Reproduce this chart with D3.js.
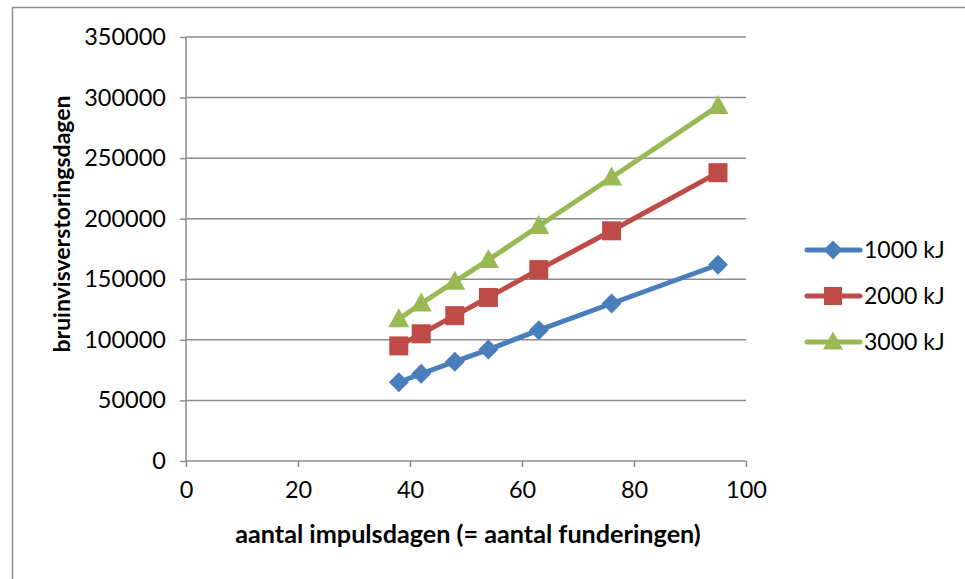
<!DOCTYPE html>
<html><head><meta charset="utf-8">
<script src="https://cdn.jsdelivr.net/npm/d3@7"></script>
<style>body{margin:0;background:#fff}svg{display:block}text{font-family:Lato,"Open Sans",sans-serif}</style>
</head><body>
<svg id="c" width="965" height="579"></svg>
<script>
const xValues = [38, 42, 48, 54, 63, 76, 95];
const seriesNames = ["1000 kJ", "2000 kJ", "3000 kJ"];
const s1000 = [65000, 72000, 82000, 92000, 108000, 130000, 162000];
const s2000 = [95000, 105000, 120000, 135000, 158000, 190000, 238000];
const s3000 = [117000, 130000, 148000, 166000, 194000, 234000, 293000];
const xTicks = [0, 20, 40, 60, 80, 100];
const yTicks = [0, 50000, 100000, 150000, 200000, 250000, 300000, 350000];
const colors = ["#4a7ebb", "#be4b48", "#98b954"];
const shapes = ["diamond", "square", "triangle"];
const series = [s1000, s2000, s3000];

const svg = d3.select("#c");
svg.append("rect").attr("x",12.5).attr("y",7.5).attr("width",1000).attr("height",1000)
  .attr("fill","none").attr("stroke","#8c8c8c").attr("stroke-width",1.5);

const x = d3.scaleLinear().domain([0,100]).range([186,746]);
const y = d3.scaleLinear().domain([0,350000]).range([461,37]);

svg.append("g").selectAll("line").data(yTicks.slice(1)).join("line")
  .attr("x1",186).attr("x2",746).attr("y1",d=>y(d)).attr("y2",d=>y(d))
  .attr("stroke","#8c8c8c").attr("stroke-width",1.5);

const ya = svg.append("g").attr("transform","translate(186,0)")
  .call(d3.axisLeft(y).tickValues(yTicks).tickFormat(d3.format("d")).tickSize(6).tickPadding(14));
ya.select(".domain").attr("stroke","#8c8c8c").attr("stroke-width",1.5).attr("d","M0,37V461");
ya.selectAll(".tick line").attr("stroke","#8c8c8c").attr("stroke-width",1.5);
ya.selectAll("text").attr("font-size",23.5).attr("fill","#000");

const xa = svg.append("g").attr("transform","translate(0,461)")
  .call(d3.axisBottom(x).tickValues(xTicks).tickSize(6).tickPadding(14));
xa.select(".domain").attr("stroke","#8c8c8c").attr("stroke-width",1.5).attr("d","M186,0H746");
xa.selectAll(".tick line").attr("stroke","#8c8c8c").attr("stroke-width",1.5);
xa.selectAll("text").attr("font-size",23.5).attr("fill","#000");

svg.append("text").attr("x",468).attr("y",543).attr("text-anchor","middle")
  .attr("font-size",25.2).attr("font-weight","bold").text("aantal impulsdagen (= aantal funderingen)");
svg.append("text").attr("transform","translate(70,224) rotate(-90)").attr("text-anchor","middle")
  .attr("font-size",23).attr("font-weight","bold").text("bruinvisverstoringsdagen");

function marker(g, shape, color, cx, cy, scale) {
  const s = scale||1;
  if (shape==="diamond") g.append("path").attr("d",`M${cx},${cy-10*s}L${cx+10*s},${cy}L${cx},${cy+10*s}L${cx-10*s},${cy}Z`).attr("fill",color);
  else if (shape==="square") g.append("rect").attr("x",cx-9.5*s).attr("y",cy-9.5*s).attr("width",19*s).attr("height",19*s).attr("fill",color);
  else g.append("path").attr("d",`M${cx},${cy-11*s}L${cx+10.5*s},${cy+8*s}L${cx-10.5*s},${cy+8*s}Z`).attr("fill",color);
}

const line = d3.line().x((d,i)=>x(xValues[i])).y(d=>y(d));
series.forEach((vals,k)=>{
  const g = svg.append("g");
  g.append("path").attr("d",line(vals)).attr("fill","none").attr("stroke",colors[k])
    .attr("stroke-width",5).attr("stroke-linejoin","round").attr("stroke-linecap","round");
  vals.forEach((v,i)=>marker(g, shapes[k], colors[k], x(xValues[i]), y(v)));
});

seriesNames.forEach((n,k)=>{
  const ly = 250 + k*46;
  const g = svg.append("g");
  g.append("line").attr("x1",807).attr("x2",860).attr("y1",ly).attr("y2",ly)
    .attr("stroke",colors[k]).attr("stroke-width",5).attr("stroke-linecap","round");
  marker(g, shapes[k], colors[k], 833, ly, 0.95);
  g.append("text").attr("x",864).attr("y",ly+8).attr("font-size",23).text(n);
});
</script>
</body></html>
